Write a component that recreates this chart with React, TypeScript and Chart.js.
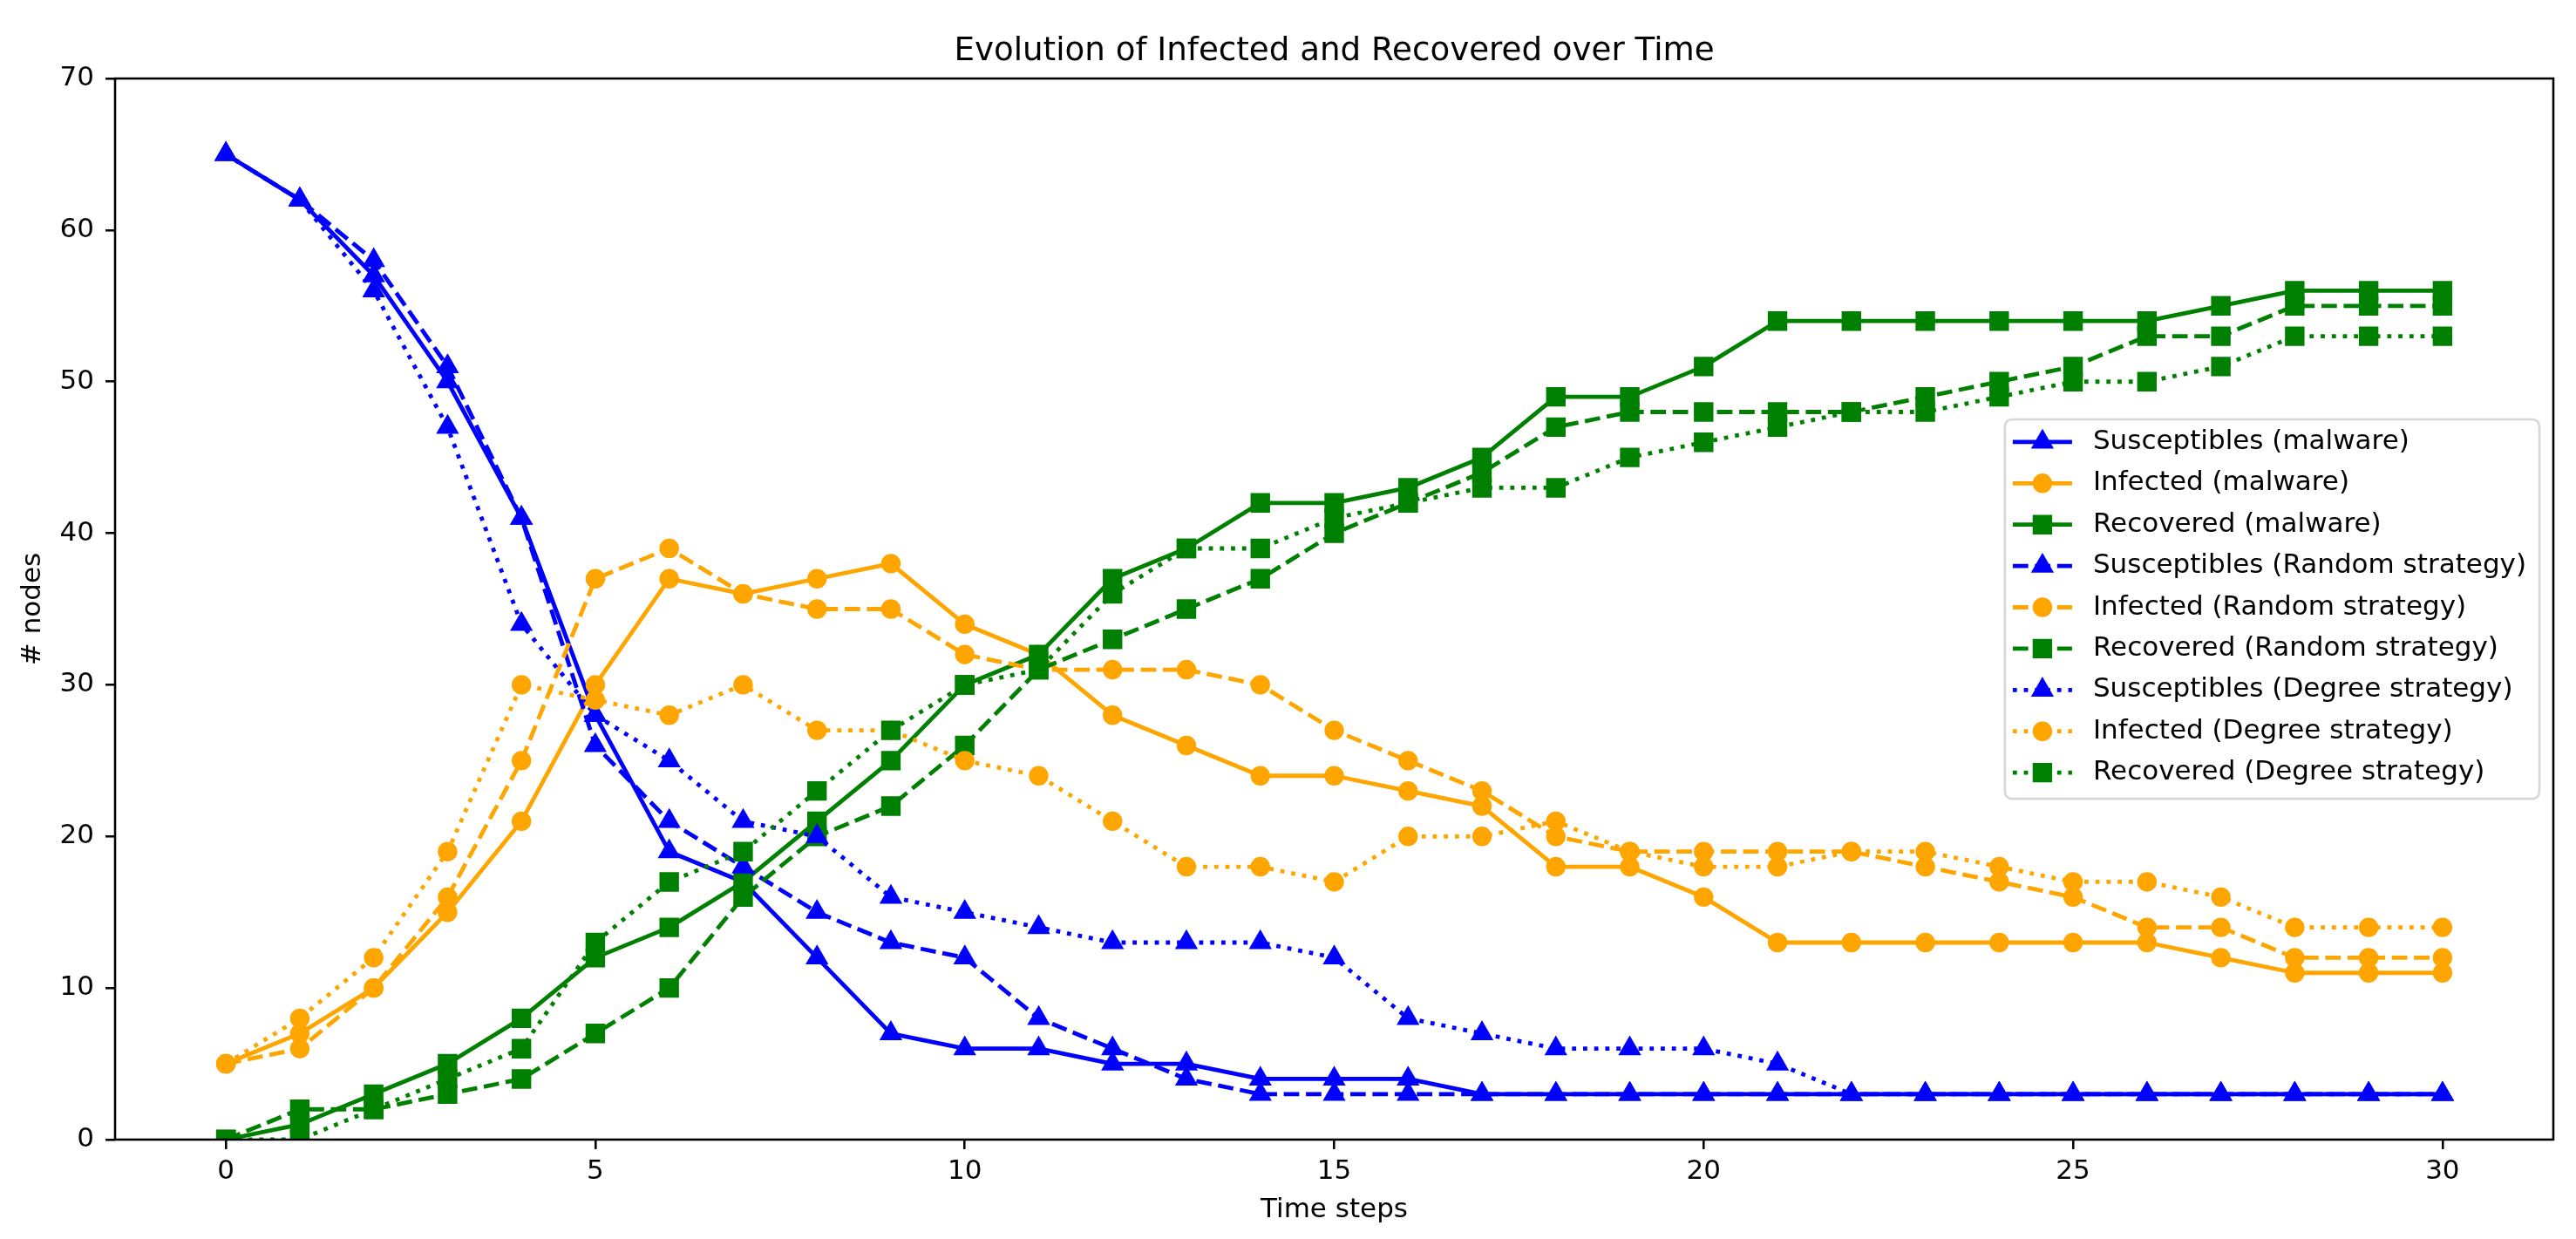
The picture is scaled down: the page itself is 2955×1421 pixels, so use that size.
import React, { useEffect, useRef } from "react";
import { Chart, registerables } from "chart.js";

Chart.register(...registerables);

// ---------- data ----------
const steps = [0, 1, 2, 3, 4, 5, 6, 7, 8, 9, 10, 11, 12, 13, 14, 15, 16, 17, 18, 19, 20, 21, 22, 23, 24, 25, 26, 27, 28, 29, 30];
const xTicks = [0, 5, 10, 15, 20, 25, 30];
const yTicks = [0, 10, 20, 30, 40, 50, 60, 70];

const susceptiblesMalware = [65, 62, 57, 50, 41, 28, 19, 17, 12, 7, 6, 6, 5, 5, 4, 4, 4, 3, 3, 3, 3, 3, 3, 3, 3, 3, 3, 3, 3, 3, 3];
const infectedMalware = [5, 7, 10, 15, 21, 30, 37, 36, 37, 38, 34, 32, 28, 26, 24, 24, 23, 22, 18, 18, 16, 13, 13, 13, 13, 13, 13, 12, 11, 11, 11];
const recoveredMalware = [0, 1, 3, 5, 8, 12, 14, 17, 21, 25, 30, 32, 37, 39, 42, 42, 43, 45, 49, 49, 51, 54, 54, 54, 54, 54, 54, 55, 56, 56, 56];

const susceptiblesRandom = [65, 62, 58, 51, 41, 26, 21, 18, 15, 13, 12, 8, 6, 4, 3, 3, 3, 3, 3, 3, 3, 3, 3, 3, 3, 3, 3, 3, 3, 3, 3];
const infectedRandom = [5, 6, 10, 16, 25, 37, 39, 36, 35, 35, 32, 31, 31, 31, 30, 27, 25, 23, 20, 19, 19, 19, 19, 18, 17, 16, 14, 14, 12, 12, 12];
const recoveredRandom = [0, 2, 2, 3, 4, 7, 10, 16, 20, 22, 26, 31, 33, 35, 37, 40, 42, 44, 47, 48, 48, 48, 48, 49, 50, 51, 53, 53, 55, 55, 55];

const susceptiblesDegree = [65, 62, 56, 47, 34, 28, 25, 21, 20, 16, 15, 14, 13, 13, 13, 12, 8, 7, 6, 6, 6, 5, 3, 3, 3, 3, 3, 3, 3, 3, 3];
const infectedDegree = [5, 8, 12, 19, 30, 29, 28, 30, 27, 27, 25, 24, 21, 18, 18, 17, 20, 20, 21, 19, 18, 18, 19, 19, 18, 17, 17, 16, 14, 14, 14];
const recoveredDegree = [0, 0, 2, 4, 6, 13, 17, 19, 23, 27, 30, 31, 36, 39, 39, 41, 42, 43, 43, 45, 46, 47, 48, 48, 49, 50, 50, 51, 53, 53, 53];

const seriesLabels = [
  "Susceptibles (malware)",
  "Infected (malware)",
  "Recovered (malware)",
  "Susceptibles (Random strategy)",
  "Infected (Random strategy)",
  "Recovered (Random strategy)",
  "Susceptibles (Degree strategy)",
  "Infected (Degree strategy)",
  "Recovered (Degree strategy)",
];

const titleText = "Evolution of Infected and Recovered over Time";
const xTitle = "Time steps";
const yTitle = "# nodes";

// ---------- styles ----------
const FONT = "DejaVu Sans";
const PT = 3.2; // pixels per point
const FS = 31; // base font size (10pt)
const TITLE_FS = 37.2; // 12pt
const LW = 1.5 * PT;
const EDGE = 1 * PT;
const BLUE = "#0000ff";
const ORANGE = "#ffa500";
const GREEN = "#008000";
const SOLID: number[] = [];
const DASHED = [3.7 * LW, 1.6 * LW];
const DOTTED = [1 * LW, 1.65 * LW];

const markerSize = 6 * PT;
const markerRadius: Record<string, number> = {
  triangle: 12,
  circle: markerSize / 2,
  rect: markerSize / (2 * Math.SQRT1_2),
};

const seriesValues = [
  susceptiblesMalware, infectedMalware, recoveredMalware,
  susceptiblesRandom, infectedRandom, recoveredRandom,
  susceptiblesDegree, infectedDegree, recoveredDegree,
];
const seriesColors = [BLUE, ORANGE, GREEN, BLUE, ORANGE, GREEN, BLUE, ORANGE, GREEN];
const seriesDash = [SOLID, SOLID, SOLID, DASHED, DASHED, DASHED, DOTTED, DOTTED, DOTTED];
const seriesMarkers = ["triangle", "circle", "rect", "triangle", "circle", "rect", "triangle", "circle", "rect"];

function drawMarker(ctx: CanvasRenderingContext2D, style: string, x: number, y: number, color: string) {
  const r = markerRadius[style];
  ctx.save();
  ctx.setLineDash([]);
  ctx.fillStyle = color;
  ctx.strokeStyle = color;
  ctx.lineWidth = EDGE;
  ctx.beginPath();
  if (style === "circle") {
    ctx.arc(x, y, r, 0, Math.PI * 2);
  } else if (style === "rect") {
    const s = Math.SQRT1_2 * r;
    ctx.rect(x - s, y - s, 2 * s, 2 * s);
  } else {
    let rad = 0;
    ctx.moveTo(x + Math.sin(rad) * r, y - Math.cos(rad) * r);
    rad += (2 * Math.PI) / 3;
    ctx.lineTo(x + Math.sin(rad) * r, y - Math.cos(rad) * r);
    rad += (2 * Math.PI) / 3;
    ctx.lineTo(x + Math.sin(rad) * r, y - Math.cos(rad) * r);
  }
  ctx.closePath();
  ctx.fill();
  ctx.stroke();
  ctx.restore();
}

const spinesPlugin = {
  id: "spines",
  afterDatasetsDraw(chart: any) {
    const { ctx, chartArea } = chart;
    ctx.save();
    ctx.strokeStyle = "#000";
    ctx.lineWidth = 0.8 * PT;
    ctx.setLineDash([]);
    ctx.strokeRect(chartArea.left, chartArea.top, chartArea.right - chartArea.left, chartArea.bottom - chartArea.top);
    ctx.restore();
  },
};

const legendPlugin = {
  id: "mplLegend",
  afterDraw(chart: any) {
    const { ctx, chartArea } = chart;
    ctx.save();
    ctx.font = `${FS}px "${FONT}"`;
    let maxW = 0;
    chart.data.datasets.forEach((d: any) => {
      maxW = Math.max(maxW, ctx.measureText(d.label).width);
    });
    const pitch = 47.4;
    const n = chart.data.datasets.length;
    const width = 101 + maxW + 15;
    const height = 26 + (n - 1) * pitch + 30;
    const right = chartArea.right - 16;
    const left = right - width;
    const top = (chartArea.top + chartArea.bottom) / 2 - height / 2;

    // frame
    const rr = 8;
    ctx.beginPath();
    ctx.moveTo(left + rr, top);
    ctx.lineTo(left + width - rr, top);
    ctx.arcTo(left + width, top, left + width, top + rr, rr);
    ctx.lineTo(left + width, top + height - rr);
    ctx.arcTo(left + width, top + height, left + width - rr, top + height, rr);
    ctx.lineTo(left + rr, top + height);
    ctx.arcTo(left, top + height, left, top + height - rr, rr);
    ctx.lineTo(left, top + rr);
    ctx.arcTo(left, top, left + rr, top, rr);
    ctx.closePath();
    ctx.fillStyle = "rgba(255,255,255,0.8)";
    ctx.fill();
    ctx.strokeStyle = "rgba(204,204,204,0.8)";
    ctx.lineWidth = 0.8 * PT;
    ctx.stroke();

    chart.data.datasets.forEach((d: any, i: number) => {
      const y = top + 26 + i * pitch;
      ctx.save();
      ctx.strokeStyle = d.borderColor;
      ctx.lineWidth = LW;
      ctx.lineCap = "butt";
      ctx.setLineDash(d.borderDash || []);
      ctx.lineDashOffset = 0;
      ctx.beginPath();
      ctx.moveTo(left + 9, y);
      ctx.lineTo(left + 77, y);
      ctx.stroke();
      ctx.restore();
      drawMarker(ctx, d.pointStyle, left + 43, y, d.borderColor);
      ctx.fillStyle = "#000";
      ctx.textAlign = "left";
      ctx.textBaseline = "middle";
      ctx.font = `${FS}px "${FONT}"`;
      ctx.fillText(d.label, left + 101, y);
    });
    ctx.restore();
  },
};

export default function App() {
  const canvasRef = useRef<HTMLCanvasElement | null>(null);

  useEffect(() => {
    document.body.style.margin = "0";
    document.body.style.overflow = "hidden";
    const canvas = canvasRef.current;
    if (!canvas) return;

    const datasets = seriesLabels.map((label, i) => ({
      label,
      data: steps.map((x, j) => ({ x, y: seriesValues[i][j] })),
      borderColor: seriesColors[i],
      backgroundColor: seriesColors[i],
      borderWidth: LW,
      borderDash: seriesDash[i],
      borderCapStyle: "butt" as const,
      borderJoinStyle: "round" as const,
      pointStyle: seriesMarkers[i],
      pointRadius: markerRadius[seriesMarkers[i]],
      pointHoverRadius: markerRadius[seriesMarkers[i]],
      pointBorderWidth: EDGE,
      pointBorderColor: seriesColors[i],
      pointBackgroundColor: seriesColors[i],
      tension: 0,
      fill: false,
      clip: 0,
      order: seriesLabels.length - 1 - i,
    }));

    const tickFont = { family: FONT, size: FS, lineHeight: 1.2 };

    const chart = new Chart(canvas, {
      type: "line",
      data: { datasets },
      options: {
        animation: false,
        responsive: false,
        events: [],
        layout: { padding: { left: 0, top: 0, right: 26, bottom: 0 } },
        plugins: {
          legend: { display: false },
          tooltip: { enabled: false },
          title: {
            display: true,
            text: titleText,
            color: "#000",
            fullSize: false,
            font: { family: FONT, size: TITLE_FS, weight: "normal", lineHeight: 1.2 },
            padding: { top: 36.7, bottom: 8.7 },
          },
        },
        scales: {
          x: {
            type: "linear",
            min: -1.5,
            max: 31.5,
            afterBuildTicks: (s: any) => {
              s.ticks = xTicks.map((v) => ({ value: v }));
            },
            afterFit: (s: any) => {
              s.height = 114;
            },
            border: { display: false },
            grid: {
              drawOnChartArea: false,
              drawTicks: true,
              tickLength: 11,
              color: "#000",
              lineWidth: 0.8 * PT,
            },
            ticks: { color: "#000", font: tickFont, padding: 7, maxRotation: 0, autoSkip: false },
            title: {
              display: true,
              text: xTitle,
              color: "#000",
              font: tickFont,
              padding: { top: 0, bottom: 14 },
            },
          },
          y: {
            type: "linear",
            min: 0,
            max: 70,
            afterBuildTicks: (s: any) => {
              s.ticks = yTicks.map((v) => ({ value: v }));
            },
            afterFit: (s: any) => {
              s.width = 132;
            },
            border: { display: false },
            grid: {
              drawOnChartArea: false,
              drawTicks: true,
              tickLength: 11,
              color: "#000",
              lineWidth: 0.8 * PT,
            },
            ticks: { color: "#000", font: tickFont, padding: 13, autoSkip: false },
            title: {
              display: true,
              text: yTitle,
              color: "#000",
              font: tickFont,
              padding: { top: 19, bottom: 0 },
            },
          },
        },
      },
      plugins: [spinesPlugin, legendPlugin],
    } as any);

    return () => {
      chart.destroy();
    };
  }, []);

  return (
    <div style={{ position: "absolute", left: 0, top: 0, width: 2955, height: 1421, background: "#fff" }}>
      <canvas ref={canvasRef} width={2955} height={1421} style={{ display: "block", width: 2955, height: 1421 }} />
    </div>
  );
}
